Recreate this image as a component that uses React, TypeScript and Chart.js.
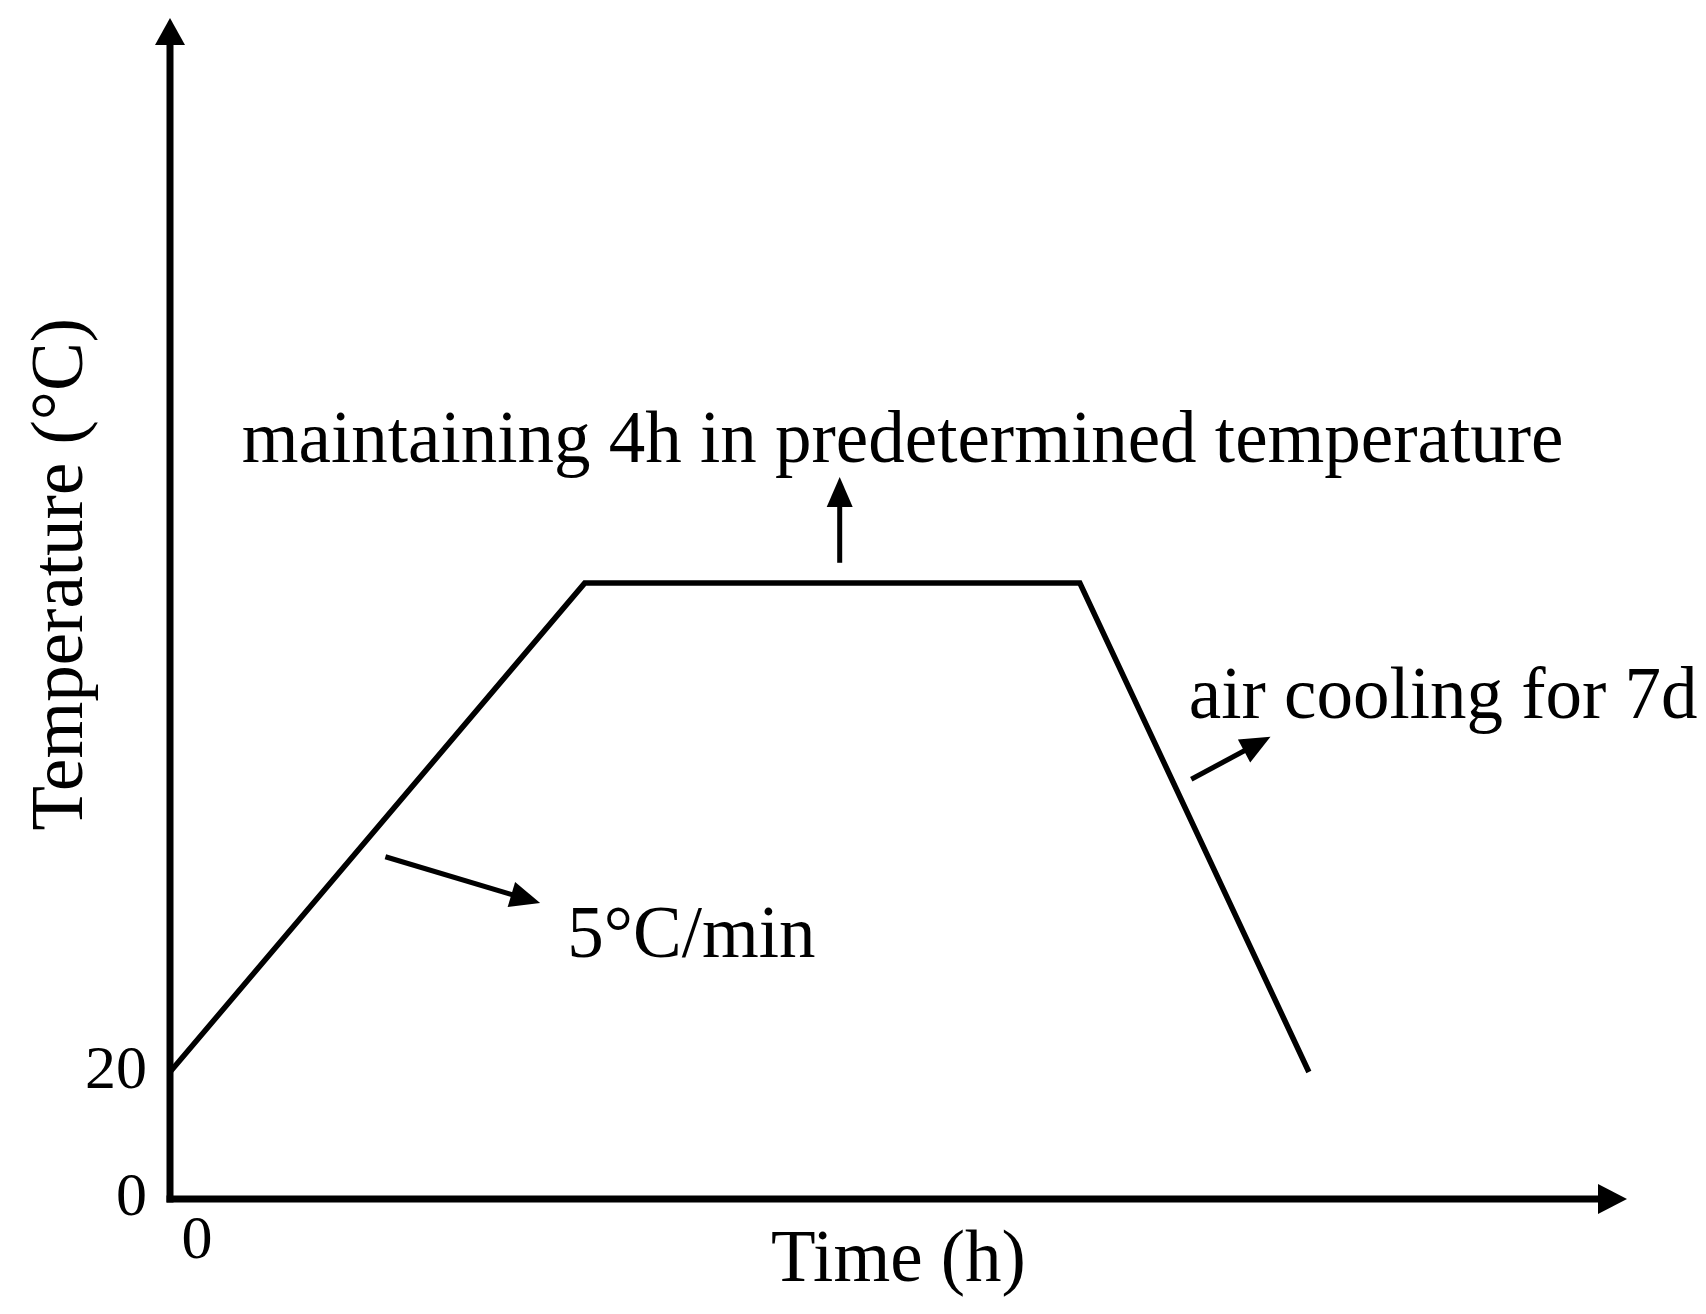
import React, { useEffect, useRef } from "react";
import { Chart, registerables } from "chart.js";

Chart.register(...registerables);

// ---- data (time in hours, temperature in °C, schematic) ----
const timeH = [0, 3.35, 7.35, 9.2];
const tempC = [20, 97, 97, 20];
const xTickValues = [0];
const yTickValues = [0, 20];
const xAxisMax = 11.77;
const yAxisMax = 186;
const xTitle = "Time (h)";
const yTitle = "Temperature (°C)";
const yTitleAt = [-0.865, 98.4];

// ---- annotations (data units) ----
const noteTexts = [
  "maintaining 4h in predetermined temperature",
  "air cooling for 7d",
  "5°C/min",
];
const noteX = [0.58, 8.23, 3.21];
const noteY = [116.1, 75.7, 38.1];
const arrowFromX = [5.41, 1.74, 8.25];
const arrowFromY = [100.2, 53.9, 66.1];
const arrowToX = [5.41, 2.99, 8.89];
const arrowToY = [113.7, 46.6, 72.8];

const FONT = "'Liberation Serif', 'Times New Roman', serif";

function arrowHead(ctx: CanvasRenderingContext2D, tx: number, ty: number, ang: number, L: number, W: number) {
  const bx = tx - L * Math.cos(ang);
  const by = ty - L * Math.sin(ang);
  const nx = -Math.sin(ang);
  const ny = Math.cos(ang);
  ctx.beginPath();
  ctx.moveTo(tx, ty);
  ctx.lineTo(bx + W * nx, by + W * ny);
  ctx.lineTo(bx - W * nx, by - W * ny);
  ctx.closePath();
  ctx.fill();
}

const decorPlugin = {
  id: "decor",
  afterDraw(chart: any) {
    const { ctx } = chart;
    const xs = chart.scales.x;
    const ys = chart.scales.y;
    const px = (v: number) => xs.getPixelForValue(v);
    const py = (v: number) => ys.getPixelForValue(v);
    const x0 = px(0);
    const y0 = py(0);
    const xEnd = px(xAxisMax);
    const yEnd = py(yAxisMax);
    ctx.save();
    ctx.strokeStyle = "#000";
    ctx.fillStyle = "#000";
    ctx.lineCap = "butt";
    // axes
    ctx.lineWidth = 7;
    ctx.beginPath();
    ctx.moveTo(x0, y0 + 3.5);
    ctx.lineTo(x0, yEnd + 20);
    ctx.stroke();
    ctx.beginPath();
    ctx.moveTo(x0 - 3.5, y0);
    ctx.lineTo(xEnd - 20, y0);
    ctx.stroke();
    arrowHead(ctx, x0, yEnd, -Math.PI / 2, 27, 15);
    arrowHead(ctx, xEnd, y0, 0, 29, 15);

    // annotation arrows
    ctx.lineWidth = 5;
    for (let i = 0; i < arrowFromX.length; i++) {
      const fx = px(arrowFromX[i]);
      const fy = py(arrowFromY[i]);
      const tx = px(arrowToX[i]);
      const ty = py(arrowToY[i]);
      const ang = Math.atan2(ty - fy, tx - fx);
      const L = 30;
      ctx.beginPath();
      ctx.moveTo(fx, fy);
      ctx.lineTo(tx - (L - 4) * Math.cos(ang), ty - (L - 4) * Math.sin(ang));
      ctx.stroke();
      arrowHead(ctx, tx, ty, ang, L, 13);
    }

    // annotation texts
    ctx.font = `73px ${FONT}`;
    ctx.textAlign = "left";
    ctx.textBaseline = "alphabetic";
    for (let i = 0; i < noteTexts.length; i++) {
      ctx.fillText(noteTexts[i], px(noteX[i]), py(noteY[i]));
    }

    // y axis title
    ctx.translate(px(yTitleAt[0]), py(yTitleAt[1]));
    ctx.rotate(-Math.PI / 2);
    ctx.textAlign = "center";
    ctx.textBaseline = "middle";
    ctx.fillText(yTitle, 0, 0);
    ctx.restore();
  },
};

export default function App() {
  const ref = useRef<HTMLCanvasElement | null>(null);
  useEffect(() => {
    if (!ref.current) return;
    const chart = new Chart(ref.current, {
      type: "line",
      data: {
        datasets: [
          {
            data: timeH.map((t, i) => ({ x: t, y: tempC[i] })),
            borderColor: "#000",
            borderWidth: 5.5,
            pointRadius: 0,
            tension: 0,
            borderJoinStyle: "miter",
            borderCapStyle: "butt",
            fill: false,
            clip: false as any,
          },
        ],
      },
      options: {
        animation: false,
        responsive: true,
        maintainAspectRatio: false,
        layout: { padding: { top: 10, right: 71, left: 0, bottom: 0 } },
        plugins: { legend: { display: false }, tooltip: { enabled: false } },
        scales: {
          x: {
            type: "linear",
            min: 0,
            max: xAxisMax,
            grid: { display: false, drawTicks: false },
            border: { display: false },
            ticks: {
              color: "#000",
              font: { family: FONT, size: 62 },
              labelOffset: 27,
              padding: 6,
              maxRotation: 0,
              autoSkip: false,
            },
            afterBuildTicks: (s: any) => {
              s.ticks = xTickValues.map((v) => ({ value: v }));
            },
            afterFit: (s: any) => {
              s.height = 107;
              s.paddingLeft = 0;
              s.paddingRight = 0;
            },
            title: {
              display: true,
              text: xTitle,
              color: "#000",
              font: { family: FONT, size: 73 },
              padding: { top: 0, bottom: 0 },
            },
          },
          y: {
            type: "linear",
            min: 0,
            max: yAxisMax,
            grid: { display: false, drawTicks: false },
            border: { display: false },
            ticks: {
              color: "#000",
              font: { family: FONT, size: 62 },
              padding: 23,
              autoSkip: false,
            },
            afterBuildTicks: (s: any) => {
              s.ticks = yTickValues.map((v) => ({ value: v }));
            },
            afterFit: (s: any) => {
              s.width = 162;
              s.paddingTop = 0;
              s.paddingBottom = 0;
            },
          },
        },
      } as any,
      plugins: [decorPlugin],
    });
    return () => chart.destroy();
  }, []);
  return (
    <div style={{ position: "relative", width: "1690px", height: "1298px" }}>
      <canvas ref={ref} />
    </div>
  );
}
